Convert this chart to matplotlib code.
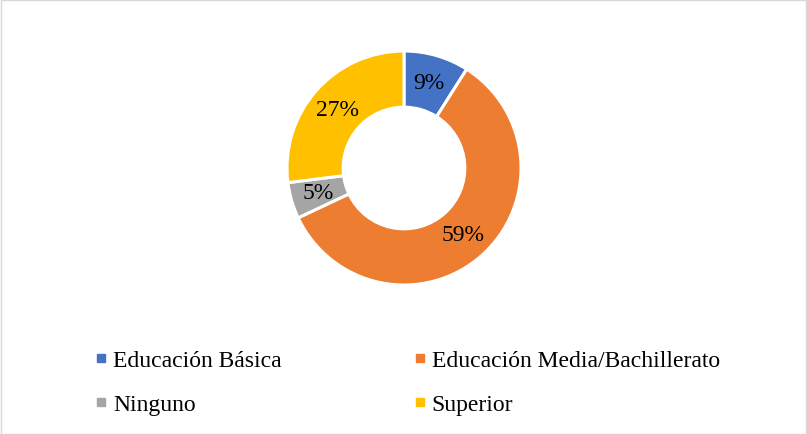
import matplotlib.pyplot as plt
from matplotlib.lines import Line2D
from matplotlib.patches import Rectangle

plt.rcParams['font.family'] = ['Liberation Serif', 'DejaVu Serif']

categorias = ['Educación Básica', 'Educación Media/Bachillerato', 'Ninguno', 'Superior']
valores = [9, 59, 5, 27]
colores = ['#4472C4', '#ED7D31', '#A5A5A5', '#FFC000']

W, H = 807, 435
fig = plt.figure(figsize=(W / 100, H / 100), dpi=100)

# donut centred at (404,169) px, radius 117 px
cx, cy, r = 404, 169, 117
ax = fig.add_axes([(cx - r) / W, (H - cy - r) / H, 2 * r / W, 2 * r / H])
ax.pie(valores, colors=colores, startangle=90, counterclock=False,
       autopct='%1.0f%%', pctdistance=0.76,
       wedgeprops=dict(width=0.48, edgecolor='white', linewidth=2.2),
       textprops=dict(fontsize=17, color='black'))
ax.set_xlim(-1, 1)
ax.set_ylim(-1, 1)
ax.set_aspect('equal')
ax.axis('off')

# legend fills row by row in the reference
orden = [0, 2, 1, 3]
handles = [Line2D([], [], marker='s', linestyle='none', markersize=5.5,
                  markerfacecolor=colores[i], markeredgecolor=colores[i]) for i in orden]
fig.legend(handles, [categorias[i] for i in orden], ncol=2, loc='upper left',
           bbox_to_anchor=(74 / W, 1 - 329 / H), frameon=False,
           fontsize=17, handletextpad=0.25, columnspacing=5.6,
           labelspacing=0.98, handlelength=0.5)

fig.patches.append(Rectangle((0.5 / W, 0.5 / H), 1 - 1.5 / W, 1 - 1.5 / H,
                             transform=fig.transFigure, fill=False,
                             edgecolor='#D9D9D9', linewidth=1))

fig.savefig('out.png', dpi=100)
